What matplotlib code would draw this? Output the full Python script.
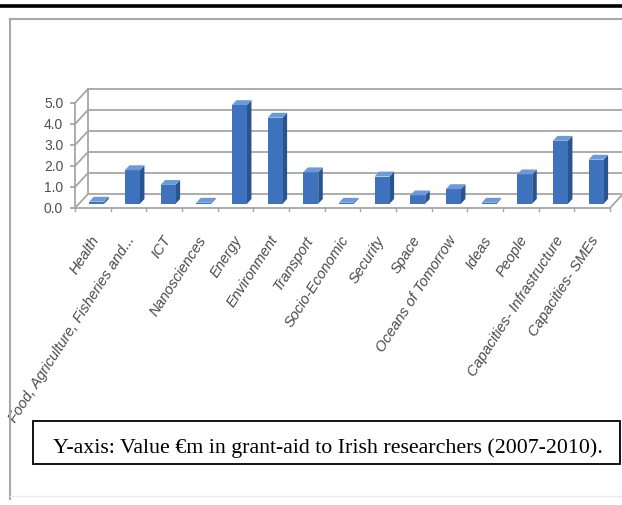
import matplotlib
matplotlib.use("Agg")
import matplotlib.pyplot as plt
from matplotlib.patches import Polygon, Rectangle
from matplotlib.lines import Line2D

# ---------------- data ----------------
categories = ["Health", "Food, Agriculture, Fisheries and...", "ICT", "Nanosciences",
              "Energy", "Environment", "Transport", "Socio-Economic", "Security",
              "Space", "Oceans of Tomorrow", "Ideas", "People",
              "Capacities- Infrastructure", "Capacities- SMEs"]
values = [0.1, 1.6, 0.9, 0.05, 4.7, 4.1, 1.5, 0.05, 1.3, 0.4, 0.7, 0.05, 1.4, 3.0, 2.1]
yticks = [0.0, 1.0, 2.0, 3.0, 4.0, 5.0]
ytick_labels = ["0.0", "1.0", "2.0", "3.0", "4.0", "5.0"]
caption = "Y-axis: Value \u20acm in grant-aid to Irish researchers (2007-2010)."

# ---------------- figure ----------------
W, H = 622, 506
fig = plt.figure(figsize=(W / 100, H / 100), dpi=100)
fig.patch.set_facecolor("white")

def fx(px):
    return px / W

def fy(py):
    return 1 - py / H

# top thick black rule
fig.add_artist(Line2D([0, 1], [fy(6.5), fy(6.5)], color="black", lw=2.6, transform=fig.transFigure))
# chart frame (gray)
fig.add_artist(Line2D([fx(10), fx(10)], [fy(20), fy(500)], color="#A8A8A8", lw=1.5, transform=fig.transFigure))
fig.add_artist(Line2D([fx(10), 1.0], [fy(20), fy(20)], color="#A8A8A8", lw=1.5, transform=fig.transFigure))
fig.add_artist(Line2D([fx(10), 1.0], [fy(497), fy(497)], color="#EBEBEB", lw=1.0, transform=fig.transFigure))

# plot axes (front floor edge 75..610 px, value 0 at 209 px, 5 at 104 px)
x0, x1, y0, y5 = 75, 610, 209, 104
ax = fig.add_axes([fx(x0), fy(y0), (x1 - x0) / W, (y0 - y5) / H])
ax.set_xlim(-0.5, len(categories) - 0.5)
ax.set_ylim(0, 5)
ax.axis("off")

n = len(categories)
DX = 13 / ((x1 - x0) / n)       # depth offset in category units
DY = 14 / ((y0 - y5) / 5)       # depth offset in value units
grid_c = "#A6A6A6"
lwg = 1.3
right_end = n - 0.5 + DX + 2.0

# back wall gridlines
for v in yticks:
    ax.plot([-0.5 + DX, right_end], [v + DY, v + DY], color=grid_c, lw=lwg, clip_on=False, zorder=1)
    # left wall diagonals
    ax.plot([-0.5, -0.5 + DX], [v, v + DY], color=grid_c, lw=lwg, clip_on=False, zorder=1)
# left wall back edge and front axis
ax.plot([-0.5 + DX, -0.5 + DX], [DY, yticks[-1] + DY], color=grid_c, lw=lwg, clip_on=False, zorder=1)
ax.plot([-0.5, -0.5], [0, yticks[-1]], color=grid_c, lw=lwg, clip_on=False, zorder=1)
for v, lab in zip(yticks, ytick_labels):
    ax.plot([-0.5 - 0.11, -0.5], [v, v], color=grid_c, lw=lwg, clip_on=False, zorder=1)
    ax.text(-0.5 - 0.33, v, lab, ha="right", va="center",
            fontsize=10, color="#505050", family="Liberation Sans")

# floor
ax.plot([-0.5, n - 0.5], [0, 0], color=grid_c, lw=lwg, clip_on=False, zorder=1)
ax.plot([n - 0.5, n - 0.5 + DX], [0, DY], color=grid_c, lw=lwg, clip_on=False, zorder=1)
for k in range(n + 1):
    ax.plot([k - 0.5, k - 0.5], [0, -0.15], color=grid_c, lw=1.0, clip_on=False, zorder=1)

# bars (pseudo 3-D)
f0 = 0.3     # depth position of bar front
bd = 0.35    # bar depth fraction
w = 0.42
c_front = "#3F72BC"
c_side = "#2A548E"
c_top = "#6C9AD8"
for i, v in enumerate(values):
    xl = i - w / 2 + f0 * DX
    xr = i + w / 2 + f0 * DX
    yb = f0 * DY
    yt = v + f0 * DY
    ox, oy = bd * DX, bd * DY
    ax.add_patch(Polygon([(xr, yb), (xr + ox, yb + oy), (xr + ox, yt + oy), (xr, yt)],
                         closed=True, facecolor=c_side, edgecolor="none", zorder=3, clip_on=False))
    ax.bar(i + f0 * DX, v, width=w, bottom=yb, color=c_front, edgecolor="none", zorder=4, clip_on=False)
    ax.add_patch(Polygon([(xl, yt), (xr, yt), (xr + ox, yt + oy), (xl + ox, yt + oy)],
                         closed=True, facecolor=c_top, edgecolor="none", zorder=5, clip_on=False))

# category labels
for i, lab in enumerate(categories):
    ax.text(i + 0.1, -1.35, lab, rotation=57, rotation_mode="anchor", ha="right", va="center",
            fontsize=10.5, color="#4A4A4A", style="italic", family="Liberation Sans", clip_on=False)

# caption box
fig.add_artist(Rectangle((fx(33), fy(465)), fx(620) - fx(33), fy(422) - fy(465),
                         transform=fig.transFigure, facecolor="white", edgecolor="black", lw=1.3))
t = fig.text(fx(53), fy(453), caption, ha="left", va="baseline", fontsize=14,
             family="Liberation Serif", color="black")
fig.canvas.draw()
bb = t.get_window_extent(fig.canvas.get_renderer())
t.set_fontsize(14 * 553 / bb.width)

fig.savefig("out.png", dpi=100, facecolor="white")
